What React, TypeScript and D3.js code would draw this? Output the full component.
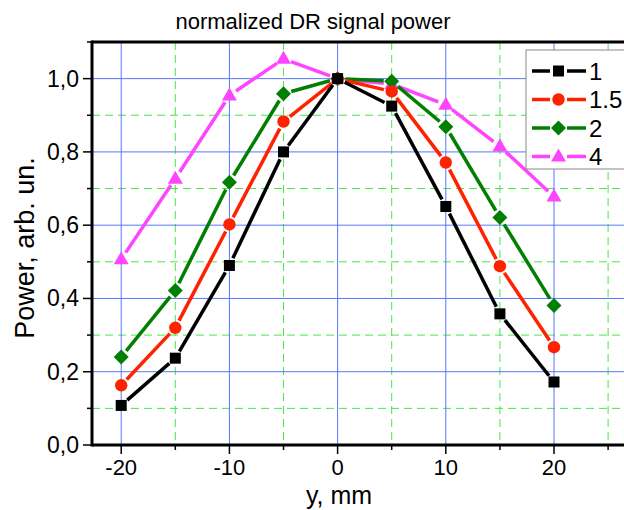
import * as d3 from 'd3'

const yPos = [-20, -15, -10, -5, 0, 5, 10, 15, 20]
const series1 = [0.108, 0.237, 0.49, 0.8, 1.0, 0.925, 0.651, 0.358, 0.172]
const series15 = [0.163, 0.32, 0.602, 0.883, 1.0, 0.965, 0.771, 0.488, 0.267]
const series2 = [0.24, 0.422, 0.717, 0.959, 1.0, 0.993, 0.869, 0.621, 0.381]
const series4 = [0.507, 0.727, 0.954, 1.054, 1.0, 0.985, 0.929, 0.815, 0.678]
const seriesNames = ['1', '1.5', '2', '4']
const seriesColors = ['#000000', '#ff2200', '#007f00', '#ff44ff']
const seriesShapes = ['square', 'circle', 'diamond', 'triangle']
const xMajor = [-20, -10, 0, 10, 20]
const xMinor = [-15, -5, 5, 15, 25]
const yMajor = [0, 0.2, 0.4, 0.6, 0.8, 1.0]
const yMinor = [0.1, 0.3, 0.5, 0.7, 0.9, 1.1]

const W = 624
const H = 510
const left = 92
const top = 42
const bottom = 445
const font = '"Liberation Sans", Arial, sans-serif'

const x = d3.scaleLinear().domain([-22.7, 20]).range([left, 554])
const y = d3.scaleLinear().domain([0, 1.1]).range([bottom, top])

function Marker({ shape, cx, cy, color }: { shape: string; cx: number; cy: number; color: string }) {
  if (shape === 'square') return <rect x={cx - 5.5} y={cy - 5.5} width={11} height={11} fill={color} />
  if (shape === 'circle') return <circle cx={cx} cy={cy} r={6.2} fill={color} />
  if (shape === 'diamond')
    return <path d={`M${cx},${cy - 7.5}L${cx + 7.5},${cy}L${cx},${cy + 7.5}L${cx - 7.5},${cy}Z`} fill={color} />
  return <path d={`M${cx},${cy - 8}L${cx + 7.5},${cy + 5}L${cx - 7.5},${cy + 5}Z`} fill={color} />
}

export default function App() {
  const data = [series1, series15, series2, series4]
  const gap = 8
  // draw last series first so that "1" sits on top
  const order = [3, 2, 1, 0]

  return (
    <svg width={W} height={H} style={{ position: 'absolute', left: 0, top: 0, background: '#fff' }}>
      <text x={313} y={29} textAnchor="middle" fontFamily={font} fontSize={22}>
        normalized DR signal power
      </text>

      {/* grid */}
      {xMinor.map((v) => (
        <line key={'xm' + v} x1={x(v)} x2={x(v)} y1={top} y2={bottom} stroke="#44e844" strokeWidth={1} strokeDasharray="8,5" />
      ))}
      {yMinor.slice(0, -1).map((v) => (
        <line key={'ym' + v} x1={left} x2={W} y1={y(v)} y2={y(v)} stroke="#44e844" strokeWidth={1} strokeDasharray="8,5" />
      ))}
      {xMajor.map((v) => (
        <line key={'xM' + v} x1={x(v)} x2={x(v)} y1={top} y2={bottom} stroke="#5577ff" strokeWidth={1} />
      ))}
      {yMajor.slice(1).map((v) => (
        <line key={'yM' + v} x1={left} x2={W} y1={y(v)} y2={y(v)} stroke="#5577ff" strokeWidth={1} />
      ))}

      {/* series */}
      {order.map((si) => {
        const pts = yPos.map((v, i) => [x(v), y(data[si][i])] as [number, number])
        const segs = pts.slice(1).map((p, i) => {
          const a = pts[i]
          const dx = p[0] - a[0]
          const dy = p[1] - a[1]
          const len = Math.hypot(dx, dy)
          if (len <= 2 * gap) return null
          const ux = dx / len
          const uy = dy / len
          return (
            <line
              key={i}
              x1={a[0] + ux * gap}
              y1={a[1] + uy * gap}
              x2={p[0] - ux * gap}
              y2={p[1] - uy * gap}
              stroke={seriesColors[si]}
              strokeWidth={3.5}
            />
          )
        })
        return (
          <g key={si}>
            {segs}
            {pts.map((p, i) => (
              <Marker key={i} shape={seriesShapes[si]} cx={p[0]} cy={p[1]} color={seriesColors[si]} />
            ))}
          </g>
        )
      })}

      {/* frame */}
      <line x1={left} x2={left} y1={top - 1.5} y2={bottom + 1.5} stroke="#000" strokeWidth={3} />
      <line x1={left} x2={W} y1={bottom} y2={bottom} stroke="#000" strokeWidth={3} />
      <line x1={left} x2={W} y1={top} y2={top} stroke="#000" strokeWidth={3} />

      {/* y ticks */}
      {yMajor.map((v) => (
        <g key={'yt' + v}>
          <line x1={left - 9} x2={left} y1={y(v)} y2={y(v)} stroke="#000" strokeWidth={1.5} />
          <text x={79} y={y(v) + 8} textAnchor="end" fontFamily={font} fontSize={23}>
            {v.toFixed(1).replace('.', ',')}
          </text>
        </g>
      ))}
      {yMinor.map((v) => (
        <line key={'ymt' + v} x1={left - 5} x2={left} y1={y(v)} y2={y(v)} stroke="#000" strokeWidth={1.5} />
      ))}

      {/* x ticks */}
      {xMajor.map((v) => (
        <g key={'xt' + v}>
          <line x1={x(v)} x2={x(v)} y1={bottom} y2={bottom + 9} stroke="#000" strokeWidth={1.5} />
          <text x={x(v)} y={475} textAnchor="middle" fontFamily={font} fontSize={22}>
            {v}
          </text>
        </g>
      ))}
      {xMinor.map((v) => (
        <line key={'xmt' + v} x1={x(v)} x2={x(v)} y1={bottom} y2={bottom + 5} stroke="#000" strokeWidth={1.5} />
      ))}

      <text x={339} y={504} textAnchor="middle" fontFamily={font} fontSize={25}>
        y, mm
      </text>
      <text
        transform={`translate(34,248) rotate(-90)`}
        textAnchor="middle"
        fontFamily={font}
        fontSize={27}
      >
        Power, arb. un.
      </text>

      {/* legend */}
      <rect x={526} y={50} width={110} height={119} fill="#fff" stroke="#888" strokeWidth={1} />
      {seriesNames.map((name, i) => {
        const cy = 71 + i * 28.5
        return (
          <g key={name}>
            <line x1={532} x2={550} y1={cy} y2={cy} stroke={seriesColors[i]} strokeWidth={3.5} />
            <line x1={567} x2={586} y1={cy} y2={cy} stroke={seriesColors[i]} strokeWidth={3.5} />
            <Marker shape={seriesShapes[i]} cx={558.5} cy={cy} color={seriesColors[i]} />
            <text x={589} y={cy + 8.5} fontFamily={font} fontSize={24}>
              {name}
            </text>
          </g>
        )
      })}
    </svg>
  )
}
